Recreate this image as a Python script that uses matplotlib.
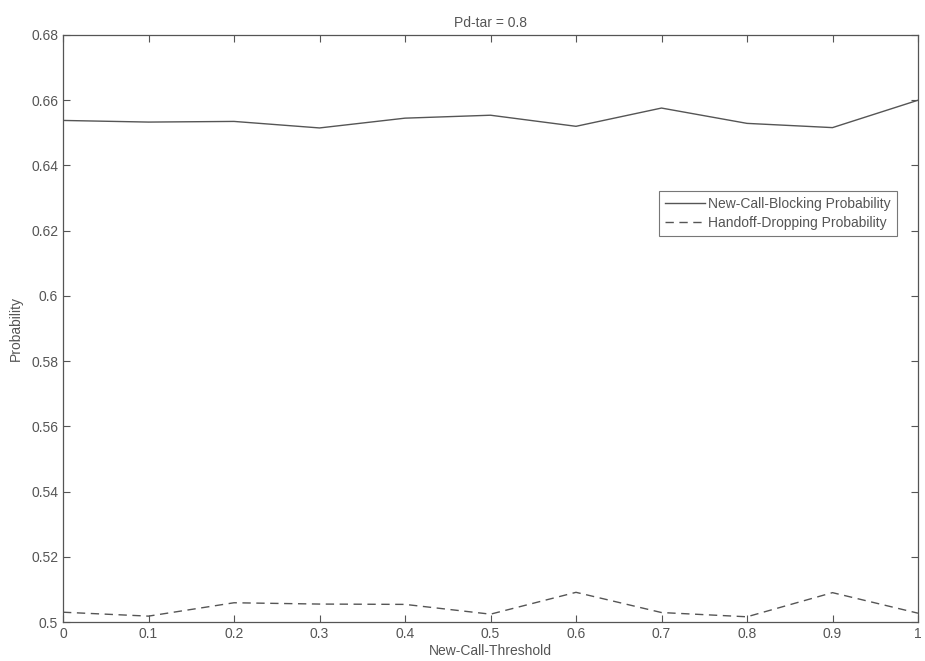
import matplotlib
matplotlib.use('Agg')
import matplotlib.pyplot as plt
import numpy as np

plt.rcParams['font.family'] = ['Liberation Sans', 'DejaVu Sans']

# threshold values and the two probability curves
threshold = [0.0, 0.1, 0.2, 0.3, 0.4, 0.5, 0.6, 0.7, 0.8, 0.9, 1.0]
blocking = [0.6538, 0.6533, 0.6535, 0.6515, 0.6545, 0.6554, 0.6520, 0.6576, 0.6529, 0.6516, 0.6600]
dropping = [0.5030, 0.5018, 0.5059, 0.5055, 0.5054, 0.5024, 0.5091, 0.5029, 0.5016, 0.5090, 0.5027]

xticks = [0, 0.1, 0.2, 0.3, 0.4, 0.5, 0.6, 0.7, 0.8, 0.9, 1]
xtick_labels = ['0', '0.1', '0.2', '0.3', '0.4', '0.5', '0.6', '0.7', '0.8', '0.9', '1']
yticks = [0.5, 0.52, 0.54, 0.56, 0.58, 0.6, 0.62, 0.64, 0.66, 0.68]
ytick_labels = ['0.5', '0.52', '0.54', '0.56', '0.58', '0.6', '0.62', '0.64', '0.66', '0.68']

txt = '#555555'
ln = '#555555'
fs = 10

fig = plt.figure(figsize=(9.25, 6.61), dpi=100)
ax = fig.add_axes([63/925, 1-622/661, (918-63)/925, (622-35)/661])

ax.plot(threshold, blocking, color=ln, lw=1.0, ls='-', label='New-Call-Blocking Probability')
ax.plot(threshold, dropping, color=ln, lw=1.0, ls=(0, (6, 4)), label='Handoff-Dropping Probability')

ax.set_xlim(0, 1)
ax.set_ylim(0.5, 0.68)
ax.set_xticks(xticks)
ax.set_xticklabels(xtick_labels)
ax.set_yticks(yticks)
ax.set_yticklabels(ytick_labels)
ax.tick_params(direction='in', top=True, right=True, length=5, width=0.8,
               colors=ln, labelcolor=txt, labelsize=fs)
for s in ax.spines.values():
    s.set_color(ln)
    s.set_linewidth(0.9)

ax.set_title('Pd-tar = 0.8', fontsize=fs, color=txt, pad=6)
ax.set_xlabel('New-Call-Threshold', fontsize=fs, color=txt, labelpad=2)
ax.set_ylabel('Probability', fontsize=fs, color=txt, labelpad=6)

leg = ax.legend(loc='upper right', bbox_to_anchor=(897/925, 1-191/661),
                bbox_transform=fig.transFigure, fontsize=fs, frameon=True,
                fancybox=False, handlelength=2.9, handletextpad=0.2,
                borderpad=0.45, labelspacing=0.35, borderaxespad=0)
leg.get_frame().set_edgecolor(ln)
leg.get_frame().set_linewidth(0.8)
for t in leg.get_texts():
    t.set_color(txt)

fig.savefig('out.png', dpi=100)
